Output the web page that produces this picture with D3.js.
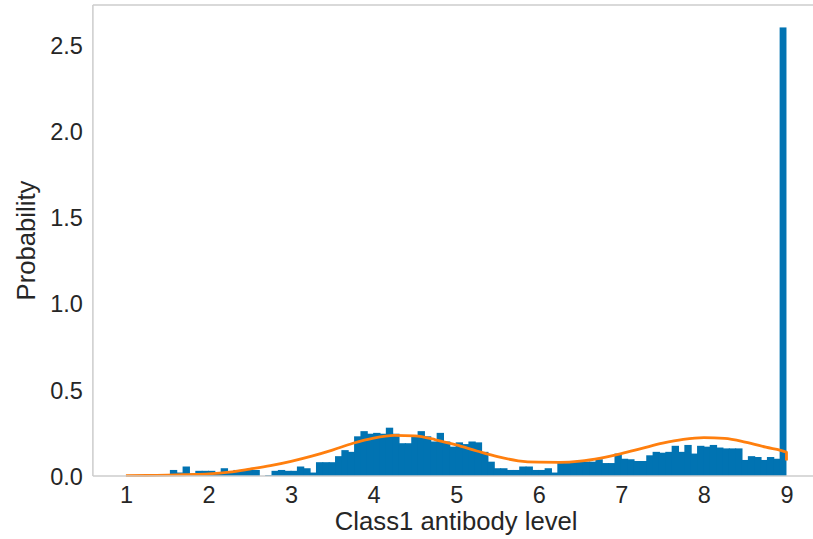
<!DOCTYPE html>
<html>
<head>
<meta charset="utf-8">
<script src="https://cdn.jsdelivr.net/npm/d3@7/dist/d3.min.js"></script>
<style>
  html, body { margin: 0; padding: 0; background: #ffffff; }
  svg { display: block; }
  text { font-family: "Liberation Sans", Arial, Helvetica, sans-serif; fill: #262626; }
</style>
</head>
<body>
<svg id="chart" width="813" height="539"></svg>
<script>
// Histogram of Class1 antibody levels (density per bin), 104 equal bins on [1, 9]
const binRange = [1, 9];
const density = [
  0, 0, 0, 0, 0, 0, 0, 0.035, 0.02, 0.055,
  0.015, 0.03, 0.03, 0.03, 0.02, 0.045, 0.025, 0.035, 0.035, 0.035,
  0.035, 0, 0.005, 0.03, 0.035, 0.03, 0.03, 0.055, 0.045, 0.02,
  0.08, 0.08, 0.08, 0.115, 0.15, 0.14, 0.23, 0.26, 0.245, 0.25,
  0.245, 0.28, 0.245, 0.19, 0.19, 0.235, 0.26, 0.23, 0.2, 0.25,
  0.2, 0.17, 0.195, 0.185, 0.2, 0.195, 0.14, 0.083, 0.045, 0.045,
  0.035, 0.035, 0.055, 0.055, 0.035, 0.035, 0.045, 0.02, 0.075, 0.075,
  0.083, 0.083, 0.083, 0.083, 0.097, 0.075, 0.075, 0.13, 0.1, 0.097,
  0.087, 0.087, 0.12, 0.14, 0.135, 0.14, 0.175, 0.14, 0.18, 0.13,
  0.175, 0.17, 0.18, 0.165, 0.16, 0.16, 0.16, 0.093, 0.115, 0.11,
  0.093, 0.11, 0.1, 2.6
];

// Kernel density estimate, sampled along the data range
const kdeX = [1.0, 1.25, 1.5, 1.75, 2.0, 2.25, 2.5, 2.75, 3.0, 3.25, 3.5, 3.75,
              4.0, 4.25, 4.5, 4.75, 5.0, 5.25, 5.5, 5.75, 6.0, 6.25, 6.5, 6.75,
              7.0, 7.25, 7.5, 7.75, 8.0, 8.25, 8.5, 8.75, 9.0, 9.0];
const kdeY = [0.002, 0.003, 0.005, 0.008, 0.012, 0.022, 0.04, 0.06, 0.085, 0.115, 0.15, 0.19,
              0.22, 0.235, 0.232, 0.21, 0.18, 0.145, 0.112, 0.088, 0.08, 0.079, 0.086, 0.104,
              0.13, 0.16, 0.19, 0.212, 0.222, 0.218, 0.197, 0.167, 0.137, 0.09];

const xTicks = [1, 2, 3, 4, 5, 6, 7, 8, 9];
const yTicks = [0.0, 0.5, 1.0, 1.5, 2.0, 2.5];

const xLabel = "Class1 antibody level";
const yLabel = "Probability";

// Layout
const svg = d3.select("#chart");
const plot = { left: 92.9, top: 5, bottom: 476, right: 819.5 };

const span = binRange[1] - binRange[0];
const x = d3.scaleLinear()
  .domain([binRange[0] - 0.05 * span, binRange[1] + 0.05 * span])
  .range([plot.left, plot.right]);
const y = d3.scaleLinear()
  .domain([0, d3.max(density) * 1.05])
  .range([plot.bottom, plot.top]);

const binWidth = span / density.length;
const bins = density.map((v, i) => ({
  x0: binRange[0] + i * binWidth,
  x1: binRange[0] + (i + 1) * binWidth,
  v,
  last: i === density.length - 1
}));

// Bars (each slightly widened so neighbours join without seams)
svg.append("g")
  .selectAll("rect")
  .data(bins.filter(b => b.v > 0))
  .join("rect")
  .attr("x", d => x(d.x0) - 0.5)
  .attr("width", d => x(d.x1) - x(d.x0) + (d.last ? 0.5 : 1))
  .attr("y", d => y(d.v))
  .attr("height", d => y(0) - y(d.v))
  .attr("fill", "#0173b2");

// Density curve
const kde = kdeX.map((v, i) => [v, kdeY[i]]);
svg.append("path")
  .datum(kde)
  .attr("fill", "none")
  .attr("stroke", "#ff7f0e")
  .attr("stroke-width", 2.8)
  .attr("stroke-linejoin", "round")
  .attr("d", d3.line().x(d => x(d[0])).y(d => y(d[1])).curve(d3.curveMonotoneX));

// Frame
const frame = svg.append("g").attr("stroke", "#cccccc").attr("stroke-width", 1.5).attr("fill", "none");
frame.append("line").attr("x1", plot.left).attr("x2", plot.left).attr("y1", plot.top).attr("y2", plot.bottom);
frame.append("line").attr("x1", plot.left).attr("x2", plot.right).attr("y1", plot.top).attr("y2", plot.top);
frame.append("line").attr("x1", plot.left).attr("x2", plot.right).attr("y1", plot.bottom).attr("y2", plot.bottom);
frame.append("line").attr("x1", plot.right).attr("x2", plot.right).attr("y1", plot.top).attr("y2", plot.bottom);

// Axes
const gx = svg.append("g")
  .attr("transform", `translate(0,${plot.bottom})`)
  .call(d3.axisBottom(x).tickValues(xTicks).tickFormat(d3.format("d")).tickSize(0).tickPadding(10));
gx.select(".domain").remove();
gx.selectAll("text").style("font-size", "23.5px").attr("fill", "#262626");

const gy = svg.append("g")
  .attr("transform", `translate(${plot.left},0)`)
  .call(d3.axisLeft(y).tickValues(yTicks).tickFormat(d3.format(".1f")).tickSize(0).tickPadding(10));
gy.select(".domain").remove();
gy.selectAll("text").style("font-size", "23.5px").attr("fill", "#262626").attr("dy", "0.36em");

// Axis titles
svg.append("text")
  .attr("x", (plot.left + plot.right) / 2)
  .attr("y", 530)
  .attr("text-anchor", "middle")
  .style("font-size", "25.7px")
  .text(xLabel);

svg.append("text")
  .attr("transform", `translate(35,${(plot.top + plot.bottom) / 2}) rotate(-90)`)
  .attr("text-anchor", "middle")
  .style("font-size", "25.7px")
  .text(yLabel);
</script>
</body>
</html>
